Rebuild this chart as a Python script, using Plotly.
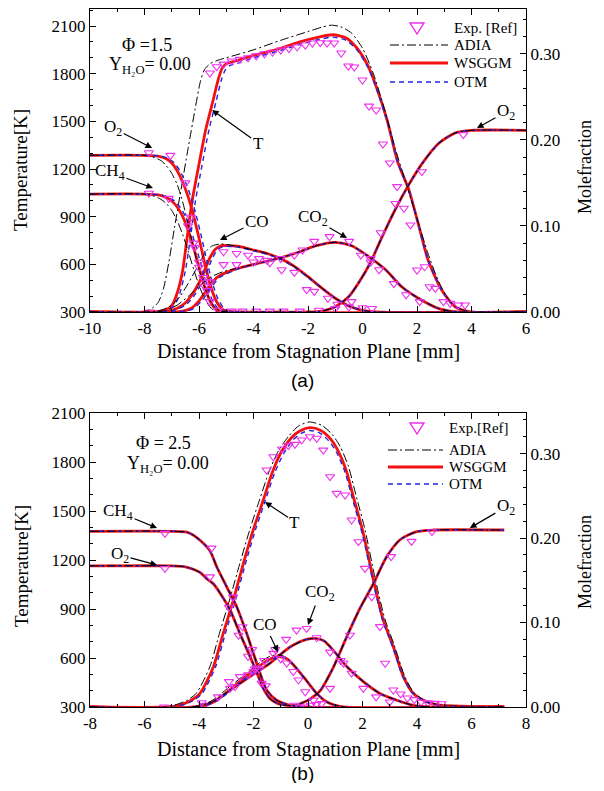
import plotly.graph_objects as go

# ---------------- Panel (a) : Phi = 1.5 ----------------
xa_T_ws = [-10, -7.6, -7.2, -7.0, -6.8, -6.6, -6.45, -6.25, -6.0, -5.75, -5.5, -5.3, -5.15, -5.0, -4.7, -4.0, -3.0, -2.3, -1.6, -1.1, -0.6, -0.2, 0.2, 0.5, 0.9, 1.3, 1.7, 2.1, 2.4, 2.9, 3.4, 3.9, 6]
ya_T_ws = [300, 300, 315, 340, 420, 560, 750, 1000, 1230, 1450, 1620, 1760, 1835, 1862, 1877, 1915, 1960, 2000, 2030, 2045, 2025, 1960, 1850, 1720, 1510, 1240, 1070, 820, 630, 440, 333, 302, 300]
xa_T_otm = [-10, -7.5, -7.1, -6.9, -6.7, -6.5, -6.33, -6.13, -5.88, -5.63, -5.38, -5.18, -5.03, -4.88, -4.6, -4.0, -3.0, -2.3, -1.6, -1.1, -0.6, -0.2, 0.2, 0.5, 0.9, 1.3, 1.7, 2.1, 2.4, 2.9, 3.4, 3.9, 6]
ya_T_otm = [300, 300, 315, 340, 420, 560, 750, 1000, 1230, 1450, 1620, 1760, 1825, 1850, 1865, 1900, 1945, 1985, 2015, 2030, 2010, 1948, 1840, 1712, 1505, 1237, 1068, 818, 628, 440, 333, 302, 300]
xa_T_ad = [-10, -8.2, -7.8, -7.5, -7.3, -7.1, -6.9, -6.7, -6.4, -6.15, -5.95, -5.8, -5.6, -5.3, -5.0, -4.0, -3.0, -2.0, -1.5, -1.15, -0.8, -0.4, 0.0, 0.4, 0.8, 1.2, 1.6, 2.0, 2.4, 2.8, 3.2, 3.6, 4.0, 6]
ya_T_ad = [300, 300, 315, 360, 450, 620, 830, 1030, 1330, 1570, 1750, 1825, 1862, 1885, 1900, 1950, 2010, 2065, 2092, 2105, 2095, 2055, 1960, 1800, 1580, 1330, 1110, 890, 670, 490, 370, 318, 302, 300]

xa_O2_ws = [-10, -8.0, -7.5, -7.2, -7.0, -6.8, -6.6, -6.4, -6.2, -6.0, -5.8, -5.6, -5.4, -5.2, -5.0, -4.5, -3.0, -2.0, -1.5, -1.0, -0.5, -0.1, 0.3, 0.7, 1.2, 1.7, 2.2, 2.8, 3.4, 4.0, 6.0]
ya_O2_ws = [0.182, 0.182, 0.181, 0.178, 0.173, 0.164, 0.151, 0.134, 0.112, 0.086, 0.058, 0.033, 0.015, 0.005, 0.001, 0.0, 0.0, 0.0, 0.001, 0.006, 0.018, 0.036, 0.058, 0.086, 0.119, 0.148, 0.173, 0.196, 0.208, 0.211, 0.211]
xa_O2_ad = [-10, -8.0, -7.7, -7.4, -7.2, -7.0, -6.8, -6.6, -6.4, -6.2, -6.0, -5.8, -5.6, -5.4, -5.2, -4.5, -3.0, -2.0, -1.5, -1.0, -0.5, -0.1, 0.3, 0.7, 1.2, 1.7, 2.2, 2.8, 3.4, 4.0, 6.0]
ya_O2_ad = [0.182, 0.182, 0.180, 0.176, 0.170, 0.161, 0.148, 0.128, 0.102, 0.075, 0.050, 0.029, 0.014, 0.005, 0.001, 0.0, 0.0, 0.0, 0.001, 0.006, 0.018, 0.036, 0.058, 0.086, 0.119, 0.148, 0.173, 0.196, 0.208, 0.211, 0.211]
xa_O2_otm = [-10, -7.9, -7.4, -7.1, -6.9, -6.7, -6.5, -6.3, -6.1, -5.9, -5.7, -5.5, -5.3, -5.1, -4.9, -4.4, -3.0, -2.0, -1.5, -1.0, -0.5, -0.1, 0.3, 0.7, 1.2, 1.7, 2.2, 2.8, 3.4, 4.0, 6.0]
ya_O2_otm = [0.182, 0.182, 0.181, 0.178, 0.173, 0.164, 0.151, 0.134, 0.112, 0.086, 0.058, 0.033, 0.015, 0.005, 0.001, 0.0, 0.0, 0.0, 0.001, 0.006, 0.018, 0.036, 0.058, 0.086, 0.119, 0.148, 0.173, 0.196, 0.208, 0.211, 0.211]

xa_CH4_ws = [-10, -8.0, -7.5, -7.2, -7.0, -6.8, -6.6, -6.4, -6.2, -6.0, -5.8, -5.6, -5.4, -5.2, -5.0, 6.0]
ya_CH4_ws = [0.137, 0.137, 0.136, 0.133, 0.129, 0.122, 0.111, 0.095, 0.075, 0.052, 0.030, 0.013, 0.004, 0.001, 0.0, 0.0]
xa_CH4_ad = [-10, -8.0, -7.7, -7.4, -7.2, -7.0, -6.8, -6.6, -6.4, -6.2, -6.0, -5.8, -5.6, -5.4, -5.2, 6.0]
ya_CH4_ad = [0.137, 0.137, 0.135, 0.131, 0.126, 0.118, 0.106, 0.090, 0.071, 0.050, 0.031, 0.016, 0.006, 0.001, 0.0, 0.0]
xa_CH4_otm = [-10, -7.9, -7.4, -7.1, -6.9, -6.7, -6.5, -6.3, -6.1, -5.9, -5.7, -5.5, -5.3, -5.1, -4.9, 6.0]
ya_CH4_otm = [0.137, 0.137, 0.136, 0.133, 0.129, 0.122, 0.111, 0.095, 0.075, 0.052, 0.030, 0.013, 0.004, 0.001, 0.0, 0.0]

xa_CO_ws = [-10, -7.4, -7.0, -6.6, -6.3, -6.0, -5.8, -5.6, -5.4, -5.2, -4.9, -4.5, -4.0, -3.5, -3.0, -2.5, -2.0, -1.5, -1.0, -0.5, 0.0, 0.5, 6]
ya_CO_ws = [0, 0, 0.002, 0.008, 0.018, 0.034, 0.048, 0.063, 0.073, 0.077, 0.077, 0.076, 0.072, 0.068, 0.062, 0.053, 0.041, 0.028, 0.016, 0.007, 0.002, 0, 0]
xa_CO_ad = [-10, -7.8, -7.4, -7.0, -6.7, -6.4, -6.1, -5.9, -5.7, -5.5, -5.2, -4.9, -4.0, -3.5, -3.0, -2.5, -2.0, -1.5, -1.0, -0.5, 0.0, 0.5, 6]
ya_CO_ad = [0, 0, 0.002, 0.008, 0.018, 0.033, 0.050, 0.062, 0.072, 0.077, 0.079, 0.078, 0.072, 0.068, 0.062, 0.053, 0.041, 0.028, 0.016, 0.007, 0.002, 0, 0]
xa_CO_otm = [-10, -7.3, -6.9, -6.5, -6.2, -5.9, -5.7, -5.5, -5.3, -5.1, -4.8, -4.5, -4.0, -3.5, -3.0, -2.5, -2.0, -1.5, -1.0, -0.5, 0.0, 0.5, 6]
ya_CO_otm = [0, 0, 0.002, 0.008, 0.018, 0.034, 0.048, 0.063, 0.073, 0.076, 0.076, 0.075, 0.071, 0.067, 0.061, 0.052, 0.040, 0.028, 0.016, 0.007, 0.002, 0, 0]

xa_CO2_ws = [-10, -7.0, -6.6, -6.3, -6.0, -5.7, -5.35, -4.75, -3.9, -3.0, -2.3, -1.7, -1.0, -0.4, 0.2, 0.85, 1.45, 2.05, 2.8, 3.5, 6]
ya_CO2_ws = [0, 0, 0.001, 0.004, 0.013, 0.026, 0.040, 0.049, 0.056, 0.063, 0.070, 0.077, 0.081, 0.077, 0.065, 0.049, 0.029, 0.016, 0.004, 0, 0]
xa_CO2_ad = [-10, -7.6, -7.2, -6.8, -6.4, -6.0, -5.6, -5.1, -3.9, -3.0, -2.3, -1.7, -1.0, -0.4, 0.2, 0.85, 1.45, 2.05, 2.8, 3.5, 6]
ya_CO2_ad = [0, 0, 0.002, 0.008, 0.018, 0.030, 0.040, 0.047, 0.056, 0.063, 0.070, 0.077, 0.081, 0.077, 0.065, 0.049, 0.029, 0.016, 0.004, 0, 0]
xa_CO2_otm = [-10, -6.9, -6.5, -6.2, -5.9, -5.6, -5.25, -4.65, -3.9, -3.0, -2.3, -1.7, -1.0, -0.4, 0.2, 0.85, 1.45, 2.05, 2.8, 3.5, 6]
ya_CO2_otm = [0, 0, 0.001, 0.004, 0.013, 0.026, 0.040, 0.049, 0.056, 0.063, 0.070, 0.077, 0.081, 0.077, 0.065, 0.049, 0.029, 0.016, 0.004, 0, 0]

ea_T_x = [-7.8, -7.05, -5.6, -5.35, -5.1, -4.8, -4.5, -4.2, -3.9, -3.6, -3.3, -3.0, -2.7, -2.4, -2.1, -1.84, -1.55, -1.3, -1.04, -0.78, -0.52, -0.3, 0.0, 0.24, 0.5, 0.75, 1.0, 1.27, 1.52, 1.76, 2.0, 2.28, 2.46, 2.67, 2.97, 3.22, 3.52, 3.76]
ea_T_y = [300, 300, 1804, 1844, 1860, 1880, 1890, 1900, 1912, 1925, 1935, 1948, 1958, 1968, 1980, 1993, 1995, 1993, 1993, 1930, 1848, 1842, 1760, 1596, 1571, 1357, 1238, 1089, 953, 848, 564, 585, 459, 449, 365, 355, 344, 344]
ea_O2_x = [-7.84, -7.05, -6.5, -6.3, -6.15, -6.0, -5.85, -5.7, -5.3, -4.8, -4.4, -3.9, -3.4, -2.9, -2.3, -1.6, -1.0, -0.4, 0.3, 0.67, 1.21, 2.18, 3.7]
ea_O2_y = [0.185, 0.182, 0.150, 0.110, 0.075, 0.058, 0.040, 0.025, 0.002, 0.001, 0.001, 0.001, 0.001, 0.001, 0.001, 0.002, 0.004, 0.012, 0.062, 0.092, 0.126, 0.163, 0.206]
ea_CH4_x = [-7.84, -7.11, -6.4, -6.2, -6.0, -5.8, -5.6]
ea_CH4_y = [0.138, 0.132, 0.100, 0.080, 0.052, 0.030, 0.012]
ea_CO_x = [-5.1, -4.62, -4.2, -3.8, -3.4, -2.97, -2.5, -2.05, -1.77, -1.27, -0.92, -0.5, 0.0, 0.35]
ea_CO_y = [0.070, 0.068, 0.066, 0.062, 0.057, 0.049, 0.046, 0.026, 0.024, 0.016, 0.009, 0.006, 0.005, 0.004]
ea_CO2_x = [-5.6, -5.1, -4.62, -4.0, -3.5, -3.0, -2.5, -2.2, -1.77, -1.21, -0.49, -0.06, 0.3, 0.61, 1.15, 1.6, 2.1]
ea_CO2_y = [0.035, 0.055, 0.055, 0.058, 0.060, 0.062, 0.066, 0.072, 0.082, 0.0876, 0.082, 0.066, 0.058, 0.049, 0.033, 0.020, 0.012]

# ---------------- Panel (b) : Phi = 2.5 ----------------
xb_T_ws = [-8, -5.2, -4.7, -4.3, -3.96, -3.47, -3.11, -2.74, -2.37, -2.01, -1.64, -1.3, -0.95, -0.6, -0.3, 0.07, 0.45, 0.81, 1.1, 1.4, 1.66, 2.03, 2.4, 2.76, 3.13, 3.5, 3.86, 4.35, 4.84, 7.2]
yb_T_ws = [300, 300, 312, 340, 384, 547, 751, 955, 1180, 1384, 1567, 1740, 1870, 1950, 1990, 2010, 1995, 1945, 1870, 1750, 1590, 1363, 1078, 833, 669, 486, 384, 332, 312, 300]
xb_T_ad = [-8, -5.4, -4.9, -4.45, -4.1, -3.6, -3.25, -2.88, -2.5, -2.14, -1.78, -1.43, -1.08, -0.7, -0.35, 0.05, 0.5, 0.88, 1.18, 1.48, 1.74, 2.1, 2.46, 2.82, 3.18, 3.55, 3.9, 4.38, 4.86, 7.2]
yb_T_ad = [300, 300, 312, 340, 384, 547, 751, 955, 1180, 1384, 1567, 1740, 1870, 1960, 2020, 2045, 2025, 1970, 1895, 1775, 1610, 1380, 1090, 840, 672, 488, 385, 332, 312, 300]
xb_T_otm = [-8, -5.1, -4.6, -4.2, -3.88, -3.39, -3.03, -2.66, -2.29, -1.93, -1.56, -1.22, -0.88, -0.55, -0.25, 0.07, 0.42, 0.77, 1.06, 1.36, 1.62, 2.0, 2.38, 2.74, 3.11, 3.48, 3.85, 4.33, 4.83, 7.2]
yb_T_otm = [300, 300, 312, 340, 384, 547, 751, 955, 1180, 1384, 1567, 1735, 1855, 1935, 1975, 1993, 1978, 1928, 1855, 1737, 1580, 1355, 1072, 830, 667, 485, 384, 332, 312, 300]

xb_O2 = [-8, -5.0, -4.5, -4.21, -3.95, -3.72, -3.45, -3.23, -2.86, -2.5, -2.13, -1.88, -1.64, -1.4, -1.1, -0.78, -0.45, -0.2, 0.1, 0.44, 0.93, 1.42, 1.91, 2.4, 2.89, 3.38, 3.99, 4.6, 7.2]
yb_O2 = [0.167, 0.167, 0.166, 0.163, 0.159, 0.152, 0.145, 0.135, 0.115, 0.087, 0.060, 0.041, 0.022, 0.010, 0.004, 0.002, 0.002, 0.005, 0.010, 0.019, 0.047, 0.083, 0.117, 0.146, 0.178, 0.198, 0.2075, 0.2095, 0.2095]
xb_CH4 = [-8, -5.0, -4.45, -4.21, -3.95, -3.6, -3.35, -2.98, -2.62, -2.25, -2.01, -1.76, -1.52, -1.15, -0.66, -0.2, 7.2]
yb_CH4 = [0.208, 0.208, 0.207, 0.2035, 0.197, 0.185, 0.166, 0.142, 0.119, 0.087, 0.064, 0.040, 0.020, 0.008, 0.002, 0.0, 0.0]
xb_CO_ws = [-8, -4.0, -3.35, -2.74, -2.13, -1.64, -1.3, -1.03, -0.78, -0.54, -0.3, -0.05, 0.32, 0.69, 1.3, 7.2]
yb_CO_ws = [0, 0, 0.008, 0.024, 0.040, 0.052, 0.058, 0.0595, 0.057, 0.050, 0.041, 0.031, 0.016, 0.006, 0, 0]
xb_CO_ad = [-8, -4.2, -3.5, -2.88, -2.25, -1.75, -1.4, -1.1, -0.82, -0.56, -0.3, -0.05, 0.32, 0.69, 1.3, 7.2]
yb_CO_ad = [0, 0, 0.008, 0.024, 0.040, 0.053, 0.060, 0.062, 0.059, 0.051, 0.041, 0.031, 0.016, 0.006, 0, 0]
xb_CO_otm = [-8, -3.95, -3.3, -2.68, -2.07, -1.58, -1.25, -1.0, -0.76, -0.53, -0.3, -0.05, 0.32, 0.69, 1.3, 7.2]
yb_CO_otm = [0, 0, 0.008, 0.024, 0.040, 0.052, 0.058, 0.0595, 0.057, 0.050, 0.041, 0.031, 0.016, 0.006, 0, 0]
xb_CO2 = [-8, -4.2, -3.5, -2.86, -2.13, -1.39, -0.66, -0.05, 0.32, 0.6, 0.93, 1.42, 2.03, 2.64, 3.26, 3.86, 4.5, 7.2]
yb_CO2 = [0, 0, 0.006, 0.020, 0.036, 0.052, 0.071, 0.080, 0.081, 0.078, 0.067, 0.048, 0.030, 0.016, 0.008, 0.002, 0, 0]

eb_T_x = [-5.28, -3.8, -1.52, -1.27, -0.95, -0.72, -0.48, -0.23, 0.07, 0.32, 0.56, 0.81, 1.05, 1.36, 1.60, 1.85, 2.09, 2.34, 2.64, 2.83, 3.13, 3.4, 3.65, 3.9, 4.15, 4.4, 4.65, 4.9]
eb_T_y = [300, 310, 1751, 1832, 1880, 1900, 1908, 1935, 1955, 1945, 1873, 1710, 1608, 1598, 1445, 1312, 1149, 975, 792, 568, 404, 380, 355, 345, 330, 325, 322, 320]
eb_O2_x = [-5.25, -3.6, -2.9, -2.55, -2.2, -1.95, -1.7, -0.5, -0.3, -0.1, 0.1, 0.3, 0.81, 1.30, 1.54, 3.05, 3.80, 4.55]
eb_O2_y = [0.164, 0.154, 0.118, 0.085, 0.060, 0.045, 0.028, 0.002, 0.0, 0.0, 0.002, 0.003, 0.022, 0.052, 0.085, 0.178, 0.196, 0.2075]
eb_CH4_x = [-5.25, -3.54, -2.75, -2.4, -2.05, -1.8, -1.55]
eb_CH4_y = [0.2055, 0.188, 0.130, 0.095, 0.068, 0.045, 0.025]
eb_CO_x = [-3.9, -3.3, -2.86, -2.68, -2.2, -1.9, -1.6, -1.27, -1.0, -0.78, -0.54, -0.35, -0.1, 0.2, 0.5]
eb_CO_y = [0.005, 0.012, 0.022, 0.024, 0.038, 0.046, 0.055, 0.0635, 0.057, 0.052, 0.042, 0.032, 0.018, 0.008, 0.004]
eb_CO2_x = [-2.9, -2.5, -2.0, -1.6, -1.2, -0.8, -0.42, -0.05, 0.32, 0.81, 1.2, 1.6, 2.03, 2.5, 3.0]
eb_CO2_y = [0.030, 0.036, 0.042, 0.055, 0.068, 0.080, 0.091, 0.093, 0.082, 0.065, 0.055, 0.040, 0.022, 0.012, 0.006]

xa_ticks = [-10, -8, -6, -4, -2, 0, 2, 4, 6]
xa_ticklabels = ["-10", "-8", "-6", "-4", "-2", "0", "2", "4", "6"]
xb_ticks = [-8, -6, -4, -2, 0, 2, 4, 6, 8]
xb_ticklabels = ["-8", "-6", "-4", "-2", "0", "2", "4", "6", "8"]
legend_labels_a = ["Exp. [Ref]", "ADIA", "WSGGM", "OTM"]
legend_labels_b = ["Exp.[Ref]", "ADIA", "WSGGM", "OTM"]

# ---------------- styling ----------------
# The page adds an 8px body margin, so the figure is 16px smaller than the window
# and every reference pixel position is shifted by that margin.
OFF = 8
W, H = 604 - 2 * OFF, 791 - 2 * OFF
SERIF = "Liberation Serif"
SANS = "Liberation Sans"
RED = "#F21010"
BLUE = "#2424E0"
BLACK = "#000000"
MAG = "#EE30EE"

def px(x):
    return (x - OFF) / W

def py(y):
    return 1 - (y - OFF) / H

fig = go.Figure()

def add_line(x, y, xa, ya, kind):
    if kind == "ws":
        ln = dict(color=RED, width=2.8)
    elif kind == "otm":
        ln = dict(color=BLUE, width=1.4, dash="5px,4px")
    else:
        ln = dict(color=BLACK, width=1.0, dash="9px,3px,2px,3px")
    ln["shape"] = "spline"
    ln["smoothing"] = 0.7
    fig.add_trace(go.Scatter(x=x, y=y, xaxis=xa, yaxis=ya, mode="lines",
                             line=ln, showlegend=False, hoverinfo="skip"))

def add_exp(x, y, xa, ya):
    fig.add_trace(go.Scatter(x=x, y=y, xaxis=xa, yaxis=ya, mode="markers",
                             marker=dict(symbol="triangle-down-open", size=8,
                                         color=MAG, line=dict(width=1.1, color=MAG)),
                             showlegend=False, hoverinfo="skip"))

for kind, sets in [
    ("ws", [(xa_T_ws, ya_T_ws, "y"), (xa_O2_ws, ya_O2_ws, "y2"), (xa_CH4_ws, ya_CH4_ws, "y2"),
            (xa_CO_ws, ya_CO_ws, "y2"), (xa_CO2_ws, ya_CO2_ws, "y2")]),
    ("otm", [(xa_T_otm, ya_T_otm, "y"), (xa_O2_otm, ya_O2_otm, "y2"), (xa_CH4_otm, ya_CH4_otm, "y2"),
             (xa_CO_otm, ya_CO_otm, "y2"), (xa_CO2_otm, ya_CO2_otm, "y2")]),
    ("ad", [(xa_T_ad, ya_T_ad, "y"), (xa_O2_ad, ya_O2_ad, "y2"), (xa_CH4_ad, ya_CH4_ad, "y2"),
            (xa_CO_ad, ya_CO_ad, "y2"), (xa_CO2_ad, ya_CO2_ad, "y2")]),
]:
    for x, y, ya in sets:
        add_line(x, y, "x", ya, kind)

add_exp(ea_T_x, ea_T_y, "x", "y")
for x, y in [(ea_O2_x, ea_O2_y), (ea_CH4_x, ea_CH4_y), (ea_CO_x, ea_CO_y), (ea_CO2_x, ea_CO2_y)]:
    add_exp(x, y, "x", "y2")

for kind, sets in [
    ("ws", [(xb_T_ws, yb_T_ws, "y3"), (xb_O2, yb_O2, "y4"), (xb_CH4, yb_CH4, "y4"),
            (xb_CO_ws, yb_CO_ws, "y4"), (xb_CO2, yb_CO2, "y4")]),
    ("otm", [(xb_T_otm, yb_T_otm, "y3"), (xb_O2, yb_O2, "y4"), (xb_CH4, yb_CH4, "y4"),
             (xb_CO_otm, yb_CO_otm, "y4"), (xb_CO2, yb_CO2, "y4")]),
    ("ad", [(xb_T_ad, yb_T_ad, "y3"), (xb_O2, yb_O2, "y4"), (xb_CH4, yb_CH4, "y4"),
            (xb_CO_ad, yb_CO_ad, "y4"), (xb_CO2, yb_CO2, "y4")]),
]:
    for x, y, ya in sets:
        add_line(x, y, "x2", ya, kind)

add_exp(eb_T_x, eb_T_y, "x2", "y3")
for x, y in [(eb_O2_x, eb_O2_y), (eb_CH4_x, eb_CH4_y), (eb_CO_x, eb_CO_y), (eb_CO2_x, eb_CO2_y)]:
    add_exp(x, y, "x2", "y4")

XD = [px(90), px(526)]
YA = [py(312), py(9)]
YB = [py(707), py(413)]

tickfont = dict(family=SERIF, size=17, color="black")
common = dict(showgrid=False, zeroline=False, showline=True, linecolor="black", linewidth=1.3,
              ticks="inside", ticklen=6, tickwidth=1.1, tickcolor="black", tickfont=tickfont,
              automargin=False)

def xax(rng, anchor, tv, tt):
    return dict(domain=XD, range=rng, anchor=anchor, tickvals=tv, ticktext=tt, mirror="ticks",
                minor=dict(dtick=1, ticks="inside", ticklen=3, tickcolor="black", showgrid=False),
                **common)

def yleft(dom, rng, anchor):
    return dict(domain=dom, range=rng, anchor=anchor, dtick=300, tick0=300,
                minor=dict(dtick=100, ticks="inside", ticklen=3, tickcolor="black", showgrid=False),
                **common)

def yright(over, rng, anchor):
    return dict(overlaying=over, side="right", range=rng, anchor=anchor, dtick=0.1, tick0=0,
                tickformat=".2f",
                minor=dict(dtick=0.02, ticks="inside", ticklen=3, tickcolor="black", showgrid=False),
                **common)

fig.update_layout(
    template="none",
    width=W, height=H, margin=dict(l=0, r=0, t=0, b=0, pad=0, autoexpand=False),
    font=dict(family=SERIF, size=16, color="black"),
    paper_bgcolor="white", plot_bgcolor="white", showlegend=False,
    xaxis=xax([-10, 6], "y", xa_ticks, xa_ticklabels),
    yaxis=yleft(YA, [300, 2207], "x"),
    yaxis2=yright("y", [0, 0.352], "x"),
    xaxis2=xax([-8, 8], "y3", xb_ticks, xb_ticklabels),
    yaxis3=yleft(YB, [300, 2100], "x2"),
    yaxis4=yright("y3", [0, 0.348], "x2"),
)

ann = []
def txt(x, y, s, size=16, family=SERIF, angle=0, xanchor="center"):
    ann.append(dict(x=px(x), y=py(y), xref="paper", yref="paper", text=s, showarrow=False,
                    font=dict(family=family, size=size, color="black"), textangle=angle,
                    xanchor=xanchor, yanchor="middle"))

def arrow(xr, yr, x, y, ax, ay, s):
    ann.append(dict(x=x, y=y, xref=xr, yref=yr, ax=ax, ay=ay, text=s, showarrow=True,
                    arrowhead=2, arrowsize=1.1, arrowwidth=1.2, arrowcolor="black",
                    font=dict(family=SERIF, size=17, color="black")))

for (yc_t, yc_m, yx) in [(170, 167, 351), (566, 562, 749)]:
    txt(21, yc_t, "Temperature[K]", size=19, angle=-90)
    txt(585, yc_m, "Molefraction", size=18, angle=-90)
    txt(308, yx, "Distance from Stagnation Plane [mm]", size=20)
txt(302, 381, "(a)", size=19, family=SANS)
txt(302, 773, "(b)", size=19, family=SANS)

txt(147, 45, "Φ =1.5", size=18)
txt(150, 66, "Y<sub>H₂O</sub>= 0.00", size=18)
txt(163, 443, "Φ = 2.5", size=18)
txt(168, 464, "Y<sub>H₂O</sub>= 0.00", size=18)

arrow("x", "y", -7.72, 1332, -39, -20, "O<sub>2</sub>")
arrow("x", "y", -7.69, 1080, -43, -16, "CH<sub>4</sub>")
arrow("x", "y", -5.52, 1571, 46, 33, "T")
arrow("x", "y", -5.23, 753, 37, -19, "CO")
arrow("x", "y", -0.57, 766, -34, -20, "CO<sub>2</sub>")
arrow("x", "y", 4.2, 1458, 29, -16, "O<sub>2</sub>")
arrow("x2", "y3", -5.54, 1396, -39, -16, "CH<sub>4</sub>")
arrow("x2", "y3", -5.54, 1169, -37, -10, "O<sub>2</sub>")
arrow("x2", "y3", -1.58, 1555, 30, 20, "T")
arrow("x2", "y3", -1.10, 637, -13, -27, "CO")
arrow("x2", "y3", 0.0, 802, 12, -32, "CO<sub>2</sub>")
arrow("x2", "y3", 5.94, 1396, 36, -21, "O<sub>2</sub>")

shapes = []

def legend(y0, x_line0, x_line1, x_text, labels, offs):
    cx, cy = 417, y0
    path = "M {:.5f},{:.5f} L {:.5f},{:.5f} L {:.5f},{:.5f} Z".format(
        px(cx - 7), py(cy - 5), px(cx + 7), py(cy - 5), px(cx), py(cy + 6))
    shapes.append(dict(type="path", path=path, xref="paper", yref="paper",
                       line=dict(color=MAG, width=1.4)))
    txt(x_text, y0, labels[0], size=15, xanchor="left")
    styles = [dict(color=BLACK, width=1.0, dash="9px,3px,2px,3px"),
              dict(color=RED, width=3),
              dict(color=BLUE, width=1.4, dash="5px,4px")]
    for lab, st, off in zip(labels[1:], styles, offs):
        yy = y0 + off
        shapes.append(dict(type="line", xref="paper", yref="paper",
                           x0=px(x_line0), x1=px(x_line1), y0=py(yy), y1=py(yy), line=st))
        txt(x_text, yy, lab, size=15, xanchor="left")

legend(28, 390, 448, 452, legend_labels_a, [17, 35, 54])
legend(428, 388, 443, 447, legend_labels_b, [22, 39, 56])

fig.update_layout(annotations=ann, shapes=shapes)
fig.write_html("out.html")
